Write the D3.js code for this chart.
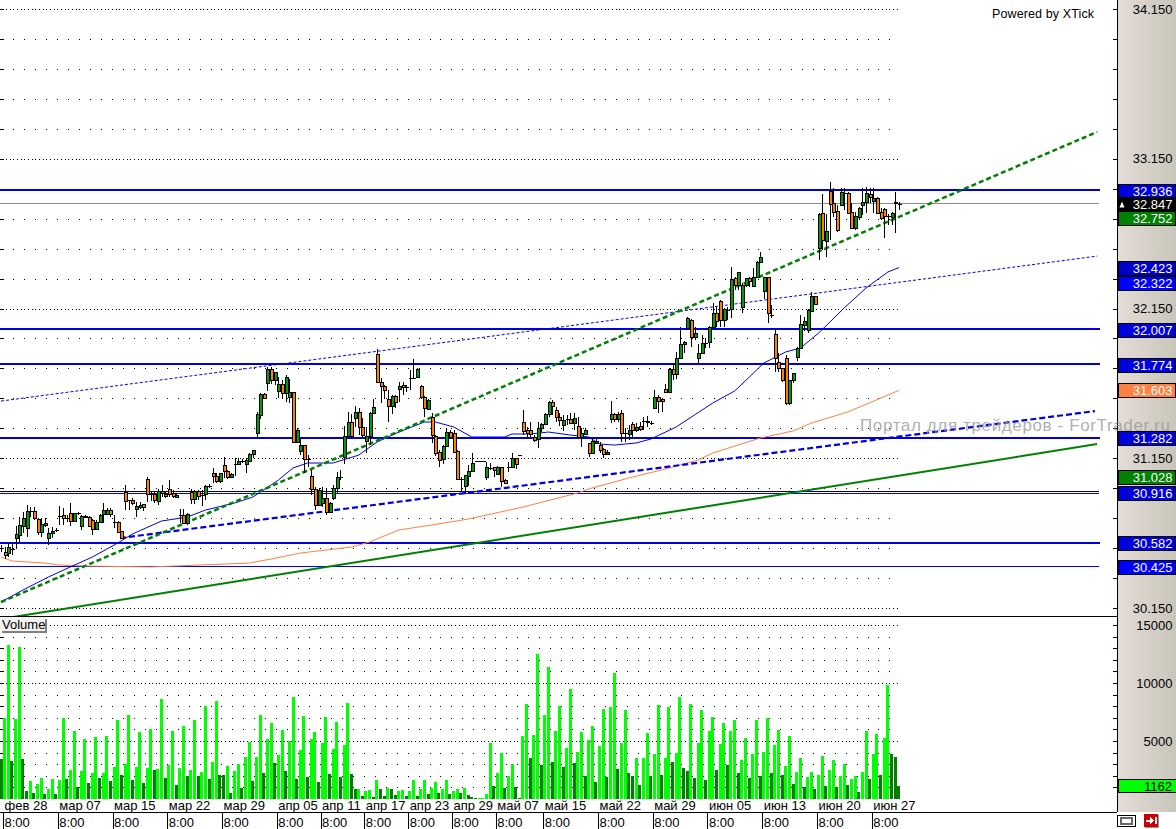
<!DOCTYPE html>
<html><head><meta charset="utf-8">
<script src="https://cdn.jsdelivr.net/npm/d3@7/dist/d3.min.js"></script>
<style>
html,body{margin:0;padding:0;background:#fff;overflow:hidden}
svg{display:block}
text{font-family:"Liberation Sans",Arial,sans-serif;font-size:13px}
</style></head><body><svg id="c" width="1176" height="829"></svg>
<script>
const open=[
30.551,30.524,30.517,30.544,30.617,30.637,30.697,30.684,30.797,30.797,
30.744,30.657,30.704,30.617,30.651,30.671,30.764,30.771,30.751,30.784,
30.731,30.784,30.697,30.757,30.757,30.737,30.677,30.724,30.777,30.777,
30.804,30.724,30.724,30.664,30.924,30.871,30.871,30.811,30.824,30.844,
31.011,30.911,30.911,30.864,30.931,30.911,30.944,30.917,30.891,30.771,
30.771,30.717,30.924,30.877,30.931,30.904,30.911,30.964,31.051,31.031,
30.998,31.105,31.065,31.025,31.111,31.111,31.131,31.111,31.131,31.178,
31.318,31.439,31.579,31.652,31.746,31.672,31.599,31.645,31.586,31.559,
31.592,31.258,31.198,31.238,31.145,31.031,30.944,30.837,30.851,30.884,
30.791,30.884,30.951,31.024,31.158,31.298,31.392,31.419,31.459,31.359,
31.265,31.298,31.452,31.846,31.659,31.632,31.546,31.499,31.566,31.612,
31.639,31.626,31.686,31.686,31.692,31.632,31.559,31.479,31.425,31.298,
31.192,31.145,31.232,31.325,31.318,31.198,31.011,30.964,31.031,31.065,
31.131,31.131,31.131,31.025,31.085,31.091,31.045,31.091,31.004,31.091,
31.091,31.151,31.171,31.392,31.338,31.338,31.292,31.278,31.352,31.379,
31.445,31.526,31.472,31.425,31.372,31.412,31.412,31.385,31.365,31.292,
31.312,31.251,31.185,31.251,31.238,31.212,31.178,31.412,31.445,31.412,
31.452,31.318,31.312,31.379,31.338,31.365,31.399,31.399,31.385,31.485,
31.559,31.546,31.612,31.592,31.746,31.712,31.819,31.913,32.020,32.073,
31.960,31.819,31.853,31.920,31.926,32.026,32.120,32.200,32.073,32.140,
32.147,32.354,32.307,32.160,32.307,32.354,32.300,32.360,32.460,32.267,
32.360,32.106,31.980,31.793,31.753,31.819,31.519,31.672,31.826,31.886,
32.040,32.006,32.133,32.233,32.554,32.788,32.601,32.935,32.855,32.801,
32.841,32.921,32.921,32.795,32.688,32.761,32.841,32.861,32.915,32.868,
32.888,32.795,32.815,32.768,32.761,32.861,32.848];
const high=[
30.571,30.557,30.584,30.584,30.697,30.757,30.791,30.837,30.824,30.824,
30.751,30.751,30.751,30.684,30.691,30.684,30.831,30.817,30.771,30.851,
30.784,30.791,30.771,30.771,30.764,30.744,30.737,30.777,30.851,30.817,
30.817,30.771,30.731,30.664,30.971,30.871,30.884,30.857,30.857,30.844,
31.024,30.924,30.924,30.944,30.971,30.924,31.004,30.938,30.917,30.811,
30.811,30.784,30.944,30.938,30.938,30.938,30.971,30.978,31.084,31.051,
31.051,31.158,31.071,31.051,31.151,31.151,31.145,31.151,31.185,31.205,
31.459,31.586,31.586,31.759,31.759,31.726,31.692,31.672,31.706,31.679,
31.592,31.352,31.278,31.238,31.171,31.071,30.958,30.951,30.958,30.951,
30.857,30.971,31.058,31.071,31.365,31.459,31.445,31.499,31.485,31.419,
31.359,31.459,31.546,31.879,31.686,31.639,31.606,31.572,31.572,31.659,
31.659,31.639,31.739,31.813,31.753,31.639,31.566,31.546,31.452,31.305,
31.205,31.238,31.352,31.338,31.338,31.205,31.024,31.038,31.105,31.185,
31.131,31.131,31.131,31.125,31.118,31.091,31.098,31.091,31.011,31.125,
31.185,31.151,31.171,31.472,31.359,31.392,31.305,31.392,31.385,31.452,
31.532,31.539,31.492,31.452,31.439,31.439,31.452,31.452,31.425,31.352,
31.352,31.251,31.285,31.278,31.258,31.218,31.205,31.532,31.452,31.459,
31.472,31.352,31.372,31.392,31.385,31.392,31.425,31.432,31.399,31.606,
31.572,31.552,31.645,31.753,31.786,31.859,32.026,31.933,32.093,32.080,
32.026,31.913,31.973,31.953,32.033,32.187,32.160,32.207,32.153,32.160,
32.427,32.360,32.394,32.320,32.354,32.360,32.420,32.467,32.527,32.360,
32.360,32.173,32.006,31.853,31.753,31.839,31.672,31.719,31.893,32.106,
32.093,32.147,32.260,32.233,32.788,32.915,32.781,32.995,32.955,32.841,
32.955,32.955,32.928,32.855,32.795,32.828,32.955,32.961,32.955,32.955,
32.895,32.821,32.821,32.781,32.795,32.928,32.861];
const low=[
30.524,30.477,30.491,30.504,30.544,30.591,30.651,30.624,30.757,30.737,
30.637,30.624,30.691,30.571,30.617,30.657,30.704,30.704,30.724,30.697,
30.724,30.771,30.671,30.751,30.691,30.637,30.671,30.717,30.717,30.771,
30.757,30.684,30.651,30.611,30.804,30.804,30.837,30.757,30.811,30.797,
30.857,30.864,30.851,30.837,30.891,30.884,30.891,30.884,30.884,30.717,
30.711,30.704,30.844,30.844,30.871,30.831,30.871,30.951,30.984,30.984,
30.984,31.018,31.011,31.025,31.031,31.105,31.118,31.051,31.125,31.151,
31.292,31.412,31.552,31.599,31.645,31.639,31.552,31.546,31.526,31.519,
31.258,31.258,31.171,31.051,31.091,30.904,30.804,30.837,30.824,30.771,
30.784,30.871,30.917,31.004,31.111,31.292,31.292,31.359,31.305,31.278,
31.185,31.238,31.445,31.652,31.519,31.546,31.392,31.445,31.485,31.526,
31.572,31.592,31.606,31.679,31.686,31.546,31.425,31.472,31.251,31.165,
31.091,31.111,31.225,31.285,31.185,31.004,30.924,30.917,30.964,31.065,
31.131,31.131,31.131,31.004,31.071,31.025,31.038,30.958,30.984,31.058,
31.085,31.078,31.171,31.305,31.285,31.292,31.258,31.218,31.325,31.372,
31.425,31.439,31.392,31.365,31.332,31.372,31.385,31.338,31.292,31.225,
31.305,31.158,31.185,31.245,31.185,31.151,31.171,31.385,31.392,31.392,
31.258,31.258,31.272,31.278,31.325,31.332,31.338,31.359,31.372,31.485,
31.452,31.459,31.592,31.592,31.672,31.679,31.813,31.853,32.020,31.893,
31.940,31.786,31.846,31.886,31.886,32.026,32.026,32.026,32.026,32.073,
32.086,32.274,32.274,32.120,32.294,32.294,32.294,32.360,32.460,32.213,
32.053,32.086,31.726,31.726,31.659,31.505,31.505,31.652,31.799,31.880,
32.000,31.986,32.127,32.173,32.474,32.541,32.494,32.607,32.761,32.661,
32.834,32.808,32.788,32.688,32.674,32.741,32.774,32.788,32.855,32.788,
32.781,32.741,32.621,32.708,32.708,32.654,32.808];
const close=[
30.551,30.504,30.557,30.544,30.644,30.704,30.751,30.797,30.797,30.751,
30.657,30.711,30.717,30.651,30.664,30.671,30.764,30.751,30.751,30.731,
30.784,30.784,30.764,30.764,30.697,30.677,30.724,30.771,30.804,30.804,
30.777,30.724,30.657,30.617,30.864,30.871,30.851,30.831,30.837,30.824,
30.911,30.911,30.871,30.931,30.917,30.897,30.911,30.897,30.904,30.771,
30.717,30.777,30.877,30.931,30.897,30.904,30.964,30.964,31.031,30.998,
31.051,31.065,31.025,31.045,31.111,31.131,31.131,31.138,31.178,31.205,
31.446,31.579,31.552,31.746,31.672,31.726,31.645,31.586,31.692,31.592,
31.258,31.338,31.238,31.145,31.145,30.944,30.837,30.938,30.884,30.791,
30.851,30.951,31.024,31.024,31.298,31.392,31.298,31.459,31.359,31.305,
31.298,31.452,31.492,31.659,31.632,31.606,31.499,31.566,31.526,31.632,
31.626,31.626,31.686,31.686,31.746,31.559,31.485,31.539,31.305,31.185,
31.138,31.232,31.325,31.292,31.192,31.011,31.011,31.038,31.065,31.118,
31.131,31.131,31.131,31.091,31.085,31.071,31.091,30.998,30.984,31.091,
31.151,31.111,31.171,31.332,31.318,31.312,31.272,31.352,31.379,31.445,
31.526,31.499,31.425,31.405,31.405,31.412,31.385,31.419,31.292,31.318,
31.338,31.185,31.265,31.265,31.205,31.178,31.192,31.445,31.412,31.445,
31.318,31.318,31.338,31.338,31.359,31.345,31.399,31.392,31.385,31.559,
31.532,31.532,31.592,31.746,31.712,31.819,31.913,31.926,32.086,31.960,
31.986,31.853,31.920,31.920,32.026,32.120,32.066,32.073,32.147,32.140,
32.347,32.307,32.394,32.307,32.354,32.334,32.360,32.460,32.494,32.360,
32.120,32.106,31.819,31.753,31.672,31.519,31.672,31.719,31.886,32.046,
32.066,32.140,32.233,32.180,32.781,32.607,32.667,32.848,32.795,32.674,
32.928,32.921,32.788,32.688,32.768,32.821,32.861,32.921,32.895,32.888,
32.788,32.754,32.768,32.768,32.788,32.855,32.848];
const volume=[
3450,7000,13260,3270,6890,13090,3440,690,1550,520,
1290,1810,430,860,1720,430,1640,6970,1720,2500,
5850,1030,2410,5170,1380,2240,5340,1810,2240,5420,
1550,2760,6800,2070,3010,7230,1640,2760,5770,1380,
2670,6030,2500,2580,8610,1810,2930,5850,1210,2670,
6290,1980,2500,6800,1980,2320,8010,1720,3190,8440,
2070,2070,2840,520,2410,3010,950,3620,4910,1550,
3620,7230,2240,5170,6540,3100,3790,5940,2410,4990,
8780,1720,4220,7150,1890,5170,5770,1460,4820,7060,
2150,4310,6630,1890,4650,8270,2150,860,860,260,
690,770,170,1640,860,260,950,860,340,690,
770,260,690,1640,260,860,1640,430,950,1460,
520,860,1640,430,690,860,520,950,340,170,
90,90,90,430,4820,1120,2240,3960,950,1980,
3010,1030,90,5420,8180,3530,5510,12480,2930,7230,
11370,3190,5850,8010,2760,4390,9470,3100,4050,5770,
1980,5080,6290,1460,4560,7750,1890,7920,10850,2580,
4820,7660,2240,1980,3530,1210,3530,5680,1980,3870,
8090,2070,3530,7920,3190,3960,8780,2670,2410,8180,
1810,4820,7660,1640,5850,7060,2500,4740,6540,2930,
5850,6800,2240,3360,5250,1810,3870,6800,1980,4050,
6970,2240,4650,5940,2070,2840,5420,1290,2320,3530,
1030,1890,2320,860,2070,3700,1120,2500,3360,1030,
1980,3010,1210,1720,1980,600,2320,5850,1720,3870,
5600,2070,5250,9820,3870,3620,1162];
const darkVolumeBars=[0,3,6,7,9,12,15,18,21,24,27,30,33,36,39,42,45,48,51,54,57,60,61,63,66,69,72,75,78,81,84,87,90,93,96,97,99,102,104,105,107,108,111,114,117,120,123,126,128,129,130,135,138,141,142,145,148,151,154,157,160,163,166,169,172,173,175,178,181,184,187,188,190,193,196,199,202,205,208,211,214,217,220,223,226,229,232,235,238,241,244,245,246];
const maFastBars=[0,6,13,19,25,32,36,44,51,56,64,69,76,80,84,91,98,103,109,116,119,124,129,138,140,145,150,156,161,164,168,174,178,185,190,195,201,205,209,215,219,224,231,237,243,246];
const maFastValues=[30.190,30.270,30.357,30.424,30.490,30.584,30.644,30.731,30.757,30.804,30.851,30.891,31.004,31.085,31.118,31.118,31.171,31.258,31.325,31.392,31.392,31.359,31.292,31.292,31.312,31.312,31.325,31.305,31.292,31.245,31.238,31.252,31.278,31.359,31.439,31.519,31.599,31.692,31.786,31.860,31.886,31.986,32.153,32.287,32.394,32.423];
const maSlowBars=[0,3,12,16,24,41,68,74,82,96,101,109,118,128,143,158,161,172,182,191,195,208,217,222,232,246];
const maSlowValues=[30.490,30.464,30.450,30.437,30.430,30.424,30.450,30.477,30.517,30.557,30.591,30.671,30.704,30.744,30.824,30.918,30.945,31.018,31.078,31.138,31.185,31.285,31.332,31.385,31.459,31.603];
const greenDashedTrend=[[0,30.190],[300.3,33.329]];
const greenSolidTrend=[[0,30.077],[300.3,31.245]];
const blueDashedTrend=[[32.6,30.617],[299.7,31.465]];
const blueDottedTrend=[[0,31.532],[300.3,32.500]];
const thickLevels=[32.936,32.007,31.774,31.282,30.582];
const thinLevels=[30.930,30.916,30.425];
const lastClose=32.847;
const priceLabels=[34.15,33.15,32.15,31.15,30.15];
const volumeLabels=[15000,10000,5000,0];
const tickBars=[0,15,30,45,60,75,87,99,111,123,135,148,163,178,193,208,223,238];
const dateLabels=["фев 28","мар 07","мар 15","мар 22","мар 29","апр 05","апр 11","апр 17","апр 23","апр 29","май 07","май 15","май 22","май 29","июн 05","июн 13","июн 20","июн 27"];
const tagValues=[32.936,32.847,32.752,32.423,32.322,32.007,31.774,31.603,31.282,31.028,30.916,30.582,30.425];
const tagColors=["#0000dd","#000","#008000","#0000cc","#0000ff","#0000dd","#0000dd","#ff8040","#0000dd","#008000","#0000dd","#0000dd","#0000ff"];

const svg=d3.select("#c");
const W=1176,axisX=1117,priceBottom=616,volBottom=812;
const defs=svg.append("defs");
const grad=defs.append("linearGradient").attr("id","axisBg");
grad.append("stop").attr("offset","0").attr("stop-color","#e5dcd8");
grad.append("stop").attr("offset","1").attr("stop-color","#c8c6ba");
defs.append("clipPath").attr("id","priceClip").append("rect").attr("width",axisX).attr("height",priceBottom);

const x=d3.scaleLinear().domain([0,246]).range([1,898.9]);
const y=d3.scaleLinear().domain([34.15,30.15]).range([9,608]);
const yVol=d3.scaleLinear().domain([0,15000]).range([799,625]);
const px=v=>Math.round(v);

svg.append("rect").attr("width",W).attr("height",829).attr("fill","#fff");
svg.append("rect").attr("x",axisX).attr("width",W-axisX).attr("height",volBottom).attr("fill","url(#axisBg)");

const priceRows=d3.range(0,21).map(k=>+(34.15-k*0.2).toFixed(2));
const volRows=d3.range(0,15).map(k=>15000-k*1000);
const allBars=d3.range(0,246);
const sparseBars=allBars.filter(i=>i%3===0);
const grid=svg.append("g").attr("fill","#000").attr("shape-rendering","crispEdges");
function dots(rows,scale,isDense){
  rows.forEach(r=>{
    grid.selectAll(null).data(isDense(r)?allBars:sparseBars).enter().append("rect")
      .attr("x",i=>px(x(i)+1.5)).attr("y",px(scale(r))).attr("width",1).attr("height",1);
  });
}
dots(priceRows,y,r=>Math.abs(((34.15-r)%1))<1e-6||Math.abs(((34.15-r)%1)-1)<1e-6);
dots(volRows,yVol,r=>r%5000===0);
const leftTicks=svg.append("g").attr("stroke","#000").attr("shape-rendering","crispEdges");
priceRows.forEach(r=>leftTicks.append("line").attr("x1",0).attr("x2",4).attr("y1",px(y(r))+.5).attr("y2",px(y(r))+.5));
volRows.forEach(r=>leftTicks.append("line").attr("x1",0).attr("x2",3).attr("y1",px(yVol(r))+.5).attr("y2",px(yVol(r))+.5));

// volume
const dark=new Set(darkVolumeBars);
svg.append("g").attr("shape-rendering","crispEdges").selectAll("rect").data(volume).enter().append("rect")
  .attr("x",(d,i)=>px(x(i)-1.5)).attr("width",3)
  .attr("y",d=>px(yVol(d))).attr("height",d=>799-px(yVol(d)))
  .attr("fill",(d,i)=>dark.has(i)?"#008000":"#00ff00");

// overlay
const chart=svg.append("g").attr("clip-path","url(#priceClip)");
const linePts=d3.line().x(d=>x(d[0])).y(d=>y(d[1]));
const levelEnd=1100;
thickLevels.forEach(v=>chart.append("rect").attr("shape-rendering","crispEdges").attr("x",0).attr("width",levelEnd).attr("y",Math.floor(y(v))-1).attr("height",2).attr("fill","#0000dd"));
thinLevels.forEach((v,i)=>chart.append("rect").attr("shape-rendering","crispEdges").attr("x",0).attr("width",levelEnd-1).attr("y",Math.floor(y(v))).attr("height",1).attr("fill",i===0?"#000080":"#0000ff"));
chart.append("rect").attr("shape-rendering","crispEdges").attr("x",0).attr("width",levelEnd-1).attr("y",px(y(lastClose))-1).attr("height",1).attr("fill","#8c8c8c");

chart.append("path").attr("d",linePts(maSlowBars.map((b,i)=>[b,maSlowValues[i]]))).attr("fill","none").attr("stroke","#ff7f3f").attr("stroke-width",1);
chart.append("path").attr("d",linePts(maFastBars.map((b,i)=>[b,maFastValues[i]]))).attr("fill","none").attr("stroke","#0000dd").attr("stroke-width",1);
chart.append("path").attr("d",linePts(greenSolidTrend)).attr("fill","none").attr("stroke","#008000").attr("stroke-width",2);
chart.append("path").attr("d",linePts(blueDottedTrend)).attr("fill","none").attr("stroke","#0000ff").attr("stroke-width",1).attr("stroke-dasharray","3 2");
chart.append("path").attr("d",linePts(blueDashedTrend)).attr("fill","none").attr("stroke","#0000dd").attr("stroke-width",2.2).attr("stroke-dasharray","6 3");
chart.append("path").attr("d",linePts(greenDashedTrend)).attr("fill","none").attr("stroke","#008000").attr("stroke-width",2.5).attr("stroke-dasharray","5 3");

// candles
const candles=chart.append("g").attr("shape-rendering","crispEdges");
open.forEach((o,i)=>{
  const c=close[i],cx=px(x(i));
  const g=candles.append("g");
  g.append("line").attr("x1",cx+.5).attr("x2",cx+.5).attr("y1",px(y(high[i]))).attr("y2",px(y(low[i]))).attr("stroke","#000");
  if(o===c){
    g.append("line").attr("x1",cx-1).attr("x2",cx+3).attr("y1",px(y(o))+.5).attr("y2",px(y(o))+.5).attr("stroke","#000");
  }else{
    const top=px(y(Math.max(o,c))),bot=px(y(Math.min(o,c)));
    g.append("rect").attr("x",cx-.5).attr("width",3).attr("y",top+.5).attr("height",Math.max(1,bot-top))
      .attr("fill",c>o?"#00a000":"#ff8000").attr("stroke","#000");
  }
});

// frame lines
const frame=svg.append("g").attr("stroke","#000").attr("shape-rendering","crispEdges");
frame.append("line").attr("x1",0).attr("x2",axisX).attr("y1",priceBottom+.5).attr("y2",priceBottom+.5);
frame.append("line").attr("x1",0).attr("x2",axisX).attr("y1",volBottom+.5).attr("y2",volBottom+.5);
frame.append("line").attr("x1",axisX+.5).attr("x2",axisX+.5).attr("y1",0).attr("y2",volBottom);

// price axis
const priceAxis=svg.append("g").attr("transform",`translate(${axisX},0)`)
  .call(d3.axisLeft(y).tickValues(priceRows).tickSize(4).tickFormat(v=>priceLabels.includes(v)?d3.format(".3f")(v):""));
const volAxis=svg.append("g").attr("transform",`translate(${axisX},0)`)
  .call(d3.axisLeft(yVol).tickValues(volRows).tickSize(4).tickFormat(v=>volumeLabels.includes(v)?String(v):""));
[priceAxis,volAxis].forEach(a=>{
  a.select(".domain").remove();
  a.attr("font-family",null).attr("font-size",null);
  a.selectAll("line").attr("stroke","#000").attr("shape-rendering","crispEdges");
  a.selectAll("text").attr("x",55.5).attr("text-anchor","end").attr("fill","#000");
});

// value tags
const tags=svg.append("g");
tagValues.forEach((v,i)=>{
  const cy=px(y(v))-.5;
  tags.append("rect").attr("shape-rendering","crispEdges").attr("x",axisX+1.5).attr("y",cy-6.5).attr("width",57).attr("height",14).attr("fill",tagColors[i]).attr("stroke","#000");
  tags.append("text").attr("x",1172.5).attr("y",cy+5.5).attr("text-anchor","end").attr("fill","#fff").text(d3.format(".3f")(v));
});
const lastTagY=px(y(lastClose))-.5;
tags.append("path").attr("d",`M1119.5,${lastTagY+4}L1122,${lastTagY-2}L1124.5,${lastTagY+4}Z`).attr("fill","#fff");
const vTagY=785.5;
tags.append("rect").attr("shape-rendering","crispEdges").attr("x",axisX+1.5).attr("y",779.5).attr("width",58).attr("height",13).attr("fill","#00ff00").attr("stroke","#000");
tags.append("text").attr("x",1172).attr("y",vTagY+5).attr("text-anchor","end").attr("fill","#000").text(String(volume[volume.length-1]));

// time axis
const timeAxis=svg.append("g").attr("transform",`translate(2,${volBottom})`)
  .call(d3.axisBottom(x).tickValues(tickBars).tickSize(17).tickFormat(()=>"8:00"));
timeAxis.select(".domain").remove();
timeAxis.attr("font-family",null).attr("font-size",null);
timeAxis.selectAll("line").attr("stroke","#000").attr("shape-rendering","crispEdges");
timeAxis.selectAll("text").attr("text-anchor","start").attr("x",1).attr("y",4).attr("dy","10.5").attr("fill","#000");
svg.append("g").selectAll("text").data(dateLabels).enter().append("text")
  .attr("x",(d,i)=>x(tickBars[i])+3.5).attr("y",810).attr("fill","#000").text(d=>d);

// volume box
svg.append("rect").attr("shape-rendering","crispEdges").attr("x",2).attr("y",619).attr("width",45).attr("height",14).attr("fill","#808080");
svg.append("rect").attr("shape-rendering","crispEdges").attr("x",0).attr("y",617).attr("width",45).attr("height",14).attr("fill","#f2f2f0");
svg.append("text").attr("x",2).attr("y",628.5).attr("fill","#000").text("Volume");

svg.append("text").attr("x",992).attr("y",18).attr("fill","#000").attr("textLength",102).attr("style","font-size:12.5px").text("Powered by XTick");
svg.append("text").attr("x",860).attr("y",431).attr("fill","#999").attr("fill-opacity",.8).attr("textLength",310).attr("style","font-size:17px").text("Портал для трейдеров - ForTrader.ru");

// icons
const icons=svg.append("g").attr("shape-rendering","crispEdges");
icons.append("rect").attr("x",1117.5).attr("y",815.5).attr("width",18).attr("height",11).attr("fill","#fff").attr("stroke","#000");
icons.append("rect").attr("x",1121).attr("y",818).attr("width",11).attr("height",6).attr("fill","none").attr("stroke","#666").attr("stroke-width",2);
icons.append("rect").attr("x",1145).attr("y",815).attr("width",14).attr("height",13).attr("fill","#999");
icons.append("rect").attr("x",1144).attr("y",814).attr("width",14).attr("height",13).attr("fill","#cc0000");
icons.append("path").attr("d","M1146,819.5h4v-3l4,4l-4,4v-3h-4zM1155,817h1.5v7h-1.5z").attr("fill","#fff");
</script></body></html>
